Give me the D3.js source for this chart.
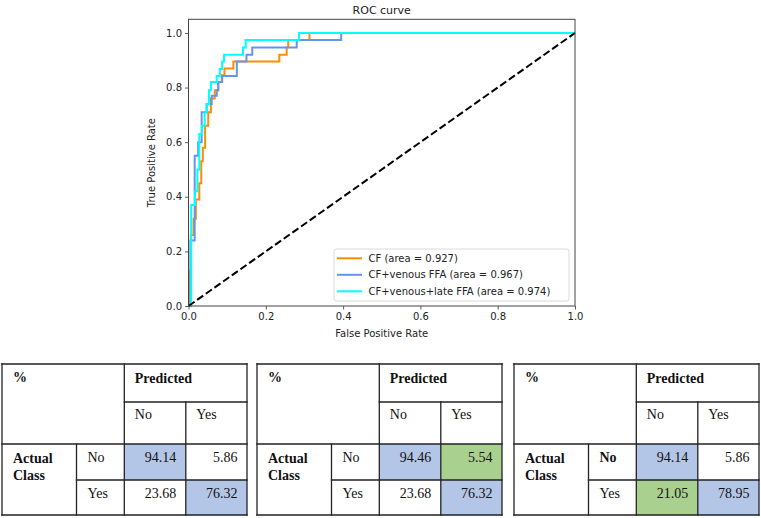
<!DOCTYPE html>
<html>
<head>
<meta charset="utf-8">
<script src="https://cdn.jsdelivr.net/npm/d3@7"></script>
<style>
  body { margin: 0; background: #fff; }
  svg { display: block; }
</style>
</head>
<body>
<svg id="chart" width="761" height="518"></svg>
<script>
// ROC curves (fpr / tpr pairs)
var cfFpr = [0, 0.003, 0.003, 0.006, 0.006, 0.013, 0.013, 0.019, 0.019, 0.028, 0.028, 0.033, 0.033, 0.037, 0.037, 0.043, 0.043, 0.051, 0.051, 0.058, 0.058, 0.068, 0.068, 0.077, 0.077, 0.086, 0.086, 0.093, 0.093, 0.116, 0.116, 0.235, 0.235, 0.254, 0.254, 0.258, 0.258, 0.313, 0.313, 1];
var cfTpr = [0, 0, 0.13, 0.13, 0.26, 0.26, 0.32, 0.32, 0.39, 0.39, 0.45, 0.45, 0.53, 0.53, 0.58, 0.58, 0.66, 0.66, 0.71, 0.71, 0.76, 0.76, 0.79, 0.79, 0.82, 0.82, 0.845, 0.845, 0.87, 0.87, 0.895, 0.895, 0.92, 0.92, 0.947, 0.947, 0.974, 0.974, 1, 1];

var venFpr = [0, 0.005, 0.005, 0.016, 0.016, 0.025, 0.025, 0.034, 0.034, 0.047, 0.047, 0.06, 0.06, 0.073, 0.073, 0.077, 0.077, 0.087, 0.087, 0.125, 0.125, 0.15, 0.15, 0.165, 0.165, 0.28, 0.28, 0.395, 0.395, 1];
var venTpr = [0, 0, 0.24, 0.24, 0.55, 0.55, 0.6, 0.6, 0.71, 0.71, 0.74, 0.74, 0.77, 0.77, 0.79, 0.79, 0.82, 0.82, 0.842, 0.842, 0.895, 0.895, 0.92, 0.92, 0.947, 0.947, 0.974, 0.974, 1, 1];

var lateFpr = [0, 0.007, 0.007, 0.017, 0.017, 0.023, 0.023, 0.028, 0.028, 0.035, 0.035, 0.042, 0.042, 0.047, 0.047, 0.053, 0.053, 0.058, 0.058, 0.073, 0.073, 0.081, 0.081, 0.087, 0.087, 0.092, 0.092, 0.141, 0.141, 0.148, 0.148, 0.286, 0.286, 1];
var lateTpr = [0, 0, 0.37, 0.37, 0.42, 0.42, 0.5, 0.5, 0.63, 0.63, 0.66, 0.66, 0.71, 0.71, 0.74, 0.74, 0.79, 0.79, 0.82, 0.82, 0.842, 0.842, 0.868, 0.868, 0.895, 0.895, 0.92, 0.92, 0.947, 0.947, 0.974, 0.974, 1, 1];

var seriesNames = ["CF (area = 0.927)", "CF+venous FFA (area = 0.967)", "CF+venous+late FFA (area = 0.974)"];
var seriesColors = ["#ff8c00", "#6495ed", "#00ffff"];
var ticks = [0, 0.2, 0.4, 0.6, 0.8, 1.0];

// confusion tables (%)
var tableCF = [[94.14, 5.86], [23.68, 76.32]];
var tableVenous = [[94.46, 5.54], [23.68, 76.32]];
var tableLate = [[94.14, 5.86], [21.05, 78.95]];
var predLabels = ["No", "Yes"];
var actualLabels = ["No", "Yes"];

var svg = d3.select("#chart");

// ---------- ROC plot ----------
var x = d3.scaleLinear().domain([0, 1]).range([188.5, 575]);
var y = d3.scaleLinear().domain([0, 1.05]).range([306, 19.3]);

var plot = svg.append("g");

var line = d3.line()
    .x(function (d) { return x(d[0]); })
    .y(function (d) { return y(d[1]); });

var curves = [
    d3.zip(cfFpr, cfTpr),
    d3.zip(venFpr, venTpr),
    d3.zip(lateFpr, lateTpr)
];

plot.selectAll("path.roc")
    .data(curves)
    .join("path")
    .attr("class", "roc")
    .attr("d", line)
    .attr("fill", "none")
    .attr("stroke", function (d, i) { return seriesColors[i]; })
    .attr("stroke-width", 2)
    .attr("stroke-linejoin", "miter");

plot.append("path")
    .attr("d", line([[0, 0], [1, 1]]))
    .attr("fill", "none")
    .attr("stroke", "#000")
    .attr("stroke-width", 2)
    .attr("stroke-dasharray", "7.4,3.2");

// axes
var xAxis = plot.append("g")
    .attr("transform", "translate(0," + y(0) + ")")
    .call(d3.axisBottom(x).tickValues(ticks).tickFormat(d3.format(".1f")).tickSizeOuter(0).tickSize(3.5).tickPadding(3));
var yAxis = plot.append("g")
    .attr("transform", "translate(" + x(0) + ",0)")
    .call(d3.axisLeft(y).tickValues(ticks).tickFormat(d3.format(".1f")).tickSizeOuter(0).tickSize(3.5).tickPadding(3));

[xAxis, yAxis].forEach(function (a) {
    a.select(".domain").remove();
    a.selectAll("line").attr("stroke", "#333").attr("stroke-width", 0.8);
    a.selectAll("text")
        .attr("fill", "#222")
        .style("font", "10px 'DejaVu Sans'");
});

// spines
plot.append("rect")
    .attr("x", x(0)).attr("y", y(1.05))
    .attr("width", x(1) - x(0)).attr("height", y(0) - y(1.05))
    .attr("fill", "none")
    .attr("stroke", "#444")
    .attr("stroke-width", 1);

plot.append("text")
    .attr("x", (x(0) + x(1)) / 2).attr("y", 14)
    .attr("text-anchor", "middle")
    .style("font", "11px 'DejaVu Sans'")
    .attr("fill", "#222")
    .text("ROC curve");

plot.append("text")
    .attr("x", (x(0) + x(1)) / 2).attr("y", 337)
    .attr("text-anchor", "middle")
    .style("font", "10px 'DejaVu Sans'")
    .attr("fill", "#222")
    .text("False Positive Rate");

plot.append("text")
    .attr("transform", "translate(155," + (y(0) + y(1.05)) / 2 + ") rotate(-90)")
    .attr("text-anchor", "middle")
    .style("font", "10px 'DejaVu Sans'")
    .attr("fill", "#222")
    .text("True Positive Rate");

// legend
var legend = plot.append("g").attr("transform", "translate(334,249)");
legend.append("rect")
    .attr("width", 235).attr("height", 52)
    .attr("rx", 2.5)
    .attr("fill", "#fff").attr("fill-opacity", 0.8)
    .attr("stroke", "#d0d0d0").attr("stroke-width", 0.8);

var item = legend.selectAll("g.item")
    .data(seriesNames)
    .join("g")
    .attr("class", "item")
    .attr("transform", function (d, i) { return "translate(0," + (9.3 + i * 16.5) + ")"; });

item.append("line")
    .attr("x1", 3).attr("x2", 28)
    .attr("stroke", function (d, i) { return seriesColors[i]; })
    .attr("stroke-width", 2);

item.append("text")
    .attr("x", 34.5).attr("dy", "0.35em")
    .style("font", "10px 'DejaVu Sans'")
    .attr("fill", "#222")
    .text(function (d) { return d; });

// ---------- confusion tables ----------
var blueFill = "#b4c6e7", greenFill = "#a9d08e";
var tables = [
    { left: 2, values: tableCF, fills: [[blueFill, null], [null, blueFill]], boldNo: false },
    { left: 257, values: tableVenous, fills: [[blueFill, greenFill], [null, blueFill]], boldNo: false },
    { left: 514, values: tableLate, fills: [[blueFill, null], [greenFill, blueFill]], boldNo: true }
];

var colX = [0, 74.5, 122.3, 183.8, 245];
var rowY = [364, 402, 444, 480, 515];
var serif = "'Liberation Serif', 'Times New Roman', serif";

tables.forEach(function (t) {
    var g = svg.append("g").attr("transform", "translate(" + t.left + ",0)");

    // shaded cells
    t.values.forEach(function (row, r) {
        row.forEach(function (v, c) {
            if (t.fills[r][c]) {
                g.append("rect")
                    .attr("x", colX[2 + c]).attr("y", rowY[2 + r])
                    .attr("width", colX[3 + c] - colX[2 + c])
                    .attr("height", rowY[3 + r] - rowY[2 + r])
                    .attr("fill", t.fills[r][c]);
            }
            g.append("text")
                .attr("x", colX[3 + c] - 9.5).attr("y", rowY[2 + r] + 17.5)
                .attr("text-anchor", "end")
                .style("font", "14px " + serif)
                .attr("fill", "#111")
                .text(d3.format(".2f")(v));
        });
    });

    // grid lines
    var lines = [
        [colX[0], rowY[0], colX[4], rowY[0]],
        [colX[2], rowY[1], colX[4], rowY[1]],
        [colX[0], rowY[2], colX[4], rowY[2]],
        [colX[1], rowY[3], colX[4], rowY[3]],
        [colX[0], rowY[4], colX[4], rowY[4]],
        [colX[0], rowY[0], colX[0], rowY[4]],
        [colX[1], rowY[2], colX[1], rowY[4]],
        [colX[2], rowY[0], colX[2], rowY[4]],
        [colX[3], rowY[1], colX[3], rowY[4]],
        [colX[4], rowY[0], colX[4], rowY[4]]
    ];
    g.selectAll("line")
        .data(lines)
        .join("line")
        .attr("x1", function (d) { return d[0]; })
        .attr("y1", function (d) { return d[1]; })
        .attr("x2", function (d) { return d[2]; })
        .attr("y2", function (d) { return d[3]; })
        .attr("stroke", "#222")
        .attr("stroke-width", 1.3)
        .attr("stroke-linecap", "square");

    function txt(xp, yp, s, bold) {
        g.append("text")
            .attr("x", xp).attr("y", yp)
            .style("font", (bold ? "bold " : "") + "14px " + serif)
            .attr("fill", "#111")
            .text(s);
    }
    txt(11, rowY[0] + 18, "%", true);
    txt(colX[2] + 10.5, rowY[0] + 19, "Predicted", true);
    predLabels.forEach(function (s, i) { txt(colX[2 + i] + 10.5, rowY[1] + 17, s, false); });
    txt(11, rowY[2] + 19, "Actual", true);
    txt(11, rowY[2] + 36, "Class", true);
    actualLabels.forEach(function (s, i) {
        txt(colX[1] + 11, rowY[2 + i] + 17.5, s, i === 0 && t.boldNo);
    });
});
</script>
</body>
</html>
